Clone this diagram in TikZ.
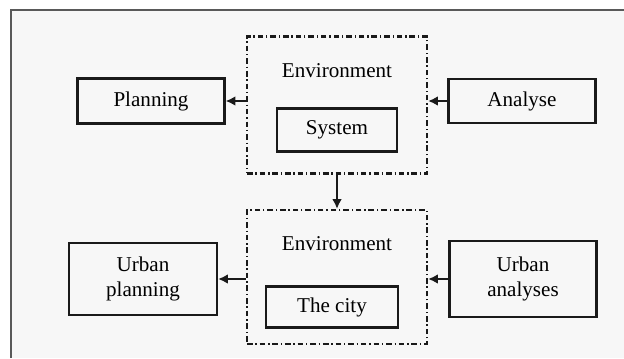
\documentclass[tikz,border=0pt]{standalone}
\usepackage{fontspec}
\setmainfont{Liberation Serif}
\usetikzlibrary{arrows.meta}

\definecolor{panelbg}{HTML}{F7F7F7}
\definecolor{inkgray}{HTML}{1A1A1A}

\begin{document}
\begin{tikzpicture}[x=0.02cm,y=-0.02cm,
    font=\fontsize{12}{13.8}\selectfont,
    box/.style={draw=inkgray, line width=1.3pt, align=center, inner sep=0pt},
    envbox/.style={draw=inkgray, line width=1.3pt, inner sep=0pt,
        dash pattern=on 3.2pt off 1.6pt on 0.8pt off 1.6pt},
    arr/.style={draw=inkgray, line width=1.5pt, -{Latex[length=5.5pt,width=5.5pt]}}]
        \useasboundingbox (0,0) rectangle (624,358);
        \fill[white] (0,0) rectangle (624,358);
        \fill[panelbg] (11,10) rectangle (624,358);
        \draw[draw=black!65, line width=0.9pt] (11,358) -- (11,10) -- (624,10);

        % upper row
        \node[envbox, minimum width=3.6cm, minimum height=2.74cm] (env1) at (337,105) {};
        \node (envtxt1) at (337,71) {Environment};
        \node[box, minimum width=2.4cm, minimum height=0.86cm] (sys) at (337,130) {System};
        \node[box, minimum width=2.94cm, minimum height=0.9cm] (plan) at (151,101) {Planning};
        \node[box, minimum width=2.94cm, minimum height=0.88cm] (anal) at (522,101) {Analyse};

        % lower row
        \node[envbox, minimum width=3.6cm, minimum height=2.68cm] (env2) at (337,277) {};
        \node (envtxt2) at (337,244) {Environment};
        \node[box, minimum width=2.64cm, minimum height=0.82cm] (city) at (332,307) {The city};
        \node[box, minimum width=2.96cm, minimum height=1.44cm] (uplan) at (143,279) {Urban\\planning};
        \node[box, minimum width=2.94cm, minimum height=1.52cm] (uanal) at (523,279) {Urban\\analyses};

        \draw[arr] (env1.west |- plan.east) -- (plan.east);
        \draw[arr] (anal.west) -- (env1.east |- anal.west);
        \draw[arr] (env1.south) -- (env2.north);
        \draw[arr] (env2.west |- uplan.east) -- (uplan.east);
        \draw[arr] (uanal.west) -- (env2.east |- uanal.west);

\end{tikzpicture}
\end{document}
